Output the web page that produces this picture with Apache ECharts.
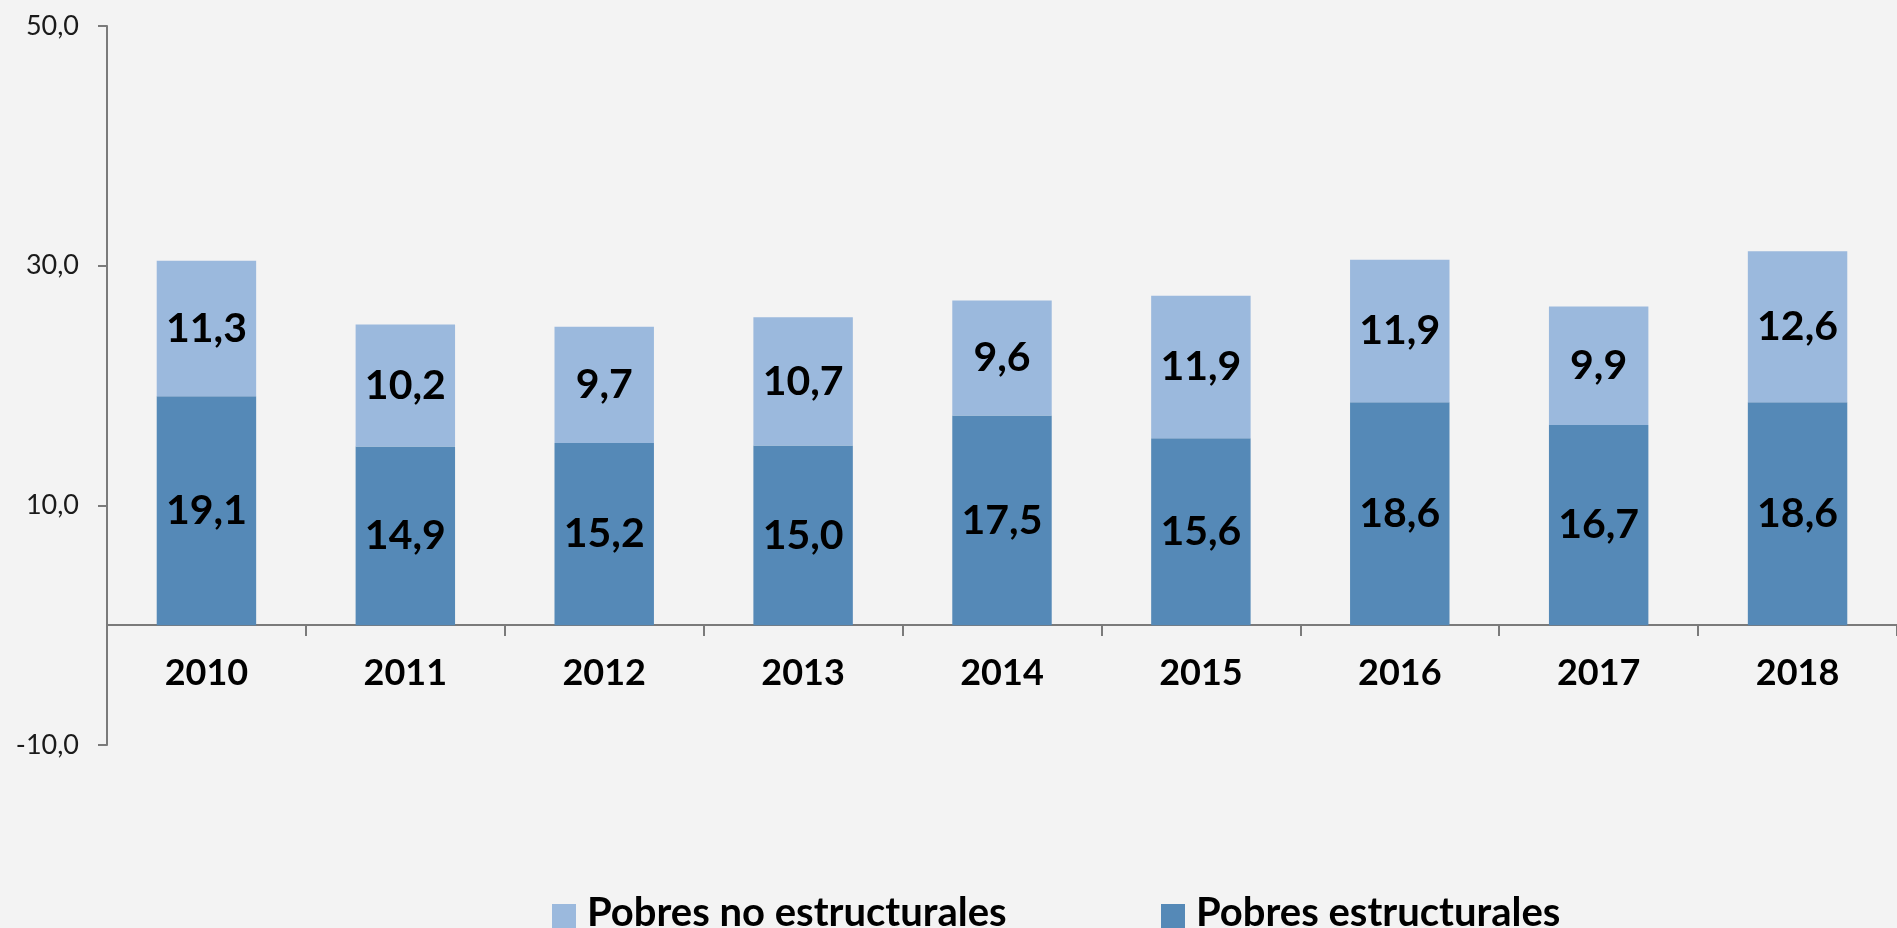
<!DOCTYPE html>
<html>
<head>
<meta charset="utf-8">
<script src="https://cdn.jsdelivr.net/npm/echarts@6/dist/echarts.min.js"></script>
<style>
  html, body { margin: 0; padding: 0; background: #f3f3f3; }
  #chart { width: 1897px; height: 928px; }
</style>
</head>
<body>
<div id="chart"></div>
<script>
  // datos
  var years = ['2010', '2011', '2012', '2013', '2014', '2015', '2016', '2017', '2018'];
  var estructurales = [19.1, 14.9, 15.2, 15.0, 17.5, 15.6, 18.6, 16.7, 18.6];
  var noEstructurales = [11.3, 10.2, 9.7, 10.7, 9.6, 11.9, 11.9, 9.9, 12.6];

  var fmt = function (v) { return v.toFixed(1).replace('.', ','); };

  var myChart = echarts.init(document.getElementById('chart'));
  var labelStyle = {
    show: true,
    position: 'inside',
    fontFamily: 'Lato',
    fontWeight: 'bold',
    fontSize: 41,
    color: '#000',
    formatter: function (p) { return fmt(p.value); }
  };
  // leyenda: un componente por item para fijar su posicion
  var legendText = {
    fontFamily: 'Lato',
    fontWeight: 'bold',
    fontSize: 40,
    color: '#000',
    padding: [0, 0, 0, 6]
  };
  // cuadrado en la parte baja del hueco del icono (queda cortado por abajo)
  var legendIcon = 'path://M0,0 M0,15 L24,15 L24,48 L0,48 Z';

  myChart.setOption({
    backgroundColor: '#f3f3f3',
    animation: false,
    grid: { left: 107, right: -10, top: 26, bottom: 183, containLabel: false },
    legend: [
      {
        data: ['Pobres no estructurales'],
        left: 552, top: 889, padding: 0,
        itemWidth: 24, itemHeight: 48, icon: legendIcon,
        textStyle: legendText
      },
      {
        data: ['Pobres estructurales'],
        left: 1161, top: 889, padding: 0,
        itemWidth: 24, itemHeight: 48, icon: legendIcon,
        textStyle: legendText
      }
    ],
    xAxis: {
      type: 'category',
      data: years,
      // el eje se sube hasta el cero
      offset: -120,
      axisLine: { onZero: false, lineStyle: { color: '#7a7a7a', width: 2 } },
      axisTick: { show: true, length: 11, lineStyle: { color: '#7a7a7a', width: 2 } },
      axisLabel: {
        margin: 30,
        fontFamily: 'Lato',
        fontWeight: 'bold',
        fontSize: 36,
        color: '#000'
      }
    },
    yAxis: {
      type: 'value',
      min: -10,
      max: 50,
      interval: 20,
      splitLine: { show: false },
      axisLine: { show: true, lineStyle: { color: '#7a7a7a', width: 2 } },
      axisTick: { show: true, length: 9, lineStyle: { color: '#7a7a7a', width: 2 } },
      axisLabel: {
        margin: 28,
        fontFamily: 'Lato',
        fontSize: 27,
        color: '#1a1a1a',
        formatter: fmt
      }
    },
    series: [
      {
        name: 'Pobres estructurales',
        type: 'bar',
        stack: 'total',
        barWidth: '50%',
        itemStyle: { color: '#5589b7' },
        label: labelStyle,
        data: estructurales
      },
      {
        name: 'Pobres no estructurales',
        type: 'bar',
        stack: 'total',
        barWidth: '50%',
        itemStyle: { color: '#9bb9dd' },
        label: labelStyle,
        data: noEstructurales
      }
    ]
  });
</script>
</body>
</html>
